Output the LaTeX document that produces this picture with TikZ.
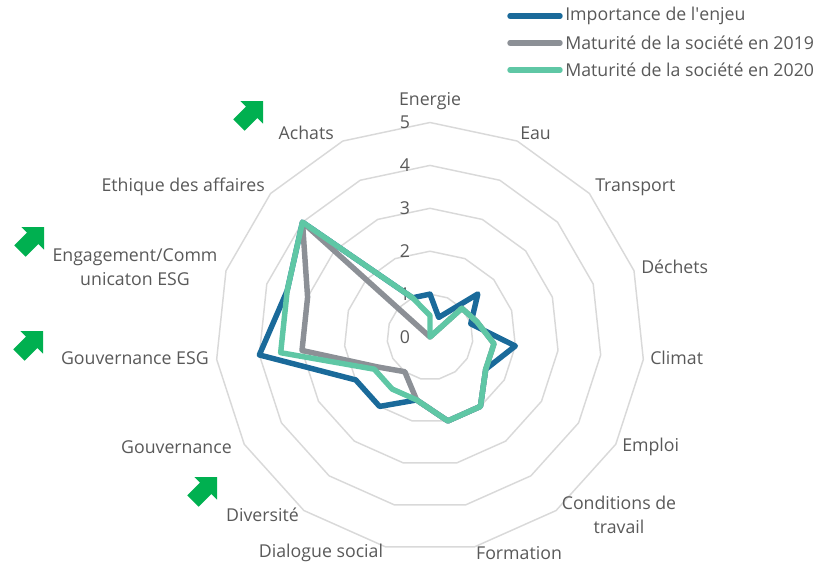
\documentclass[tikz,border=0pt]{standalone}
\usepackage{fontspec}
\setmainfont{Open Sans}
\definecolor{impblue}{HTML}{1A6A9A}
\definecolor{matgray}{HTML}{8C9096}
\definecolor{matgreen}{HTML}{5FC7A5}
\definecolor{gridgray}{HTML}{D9D9D9}
\definecolor{labelgray}{HTML}{595959}
\definecolor{arrowgreen}{HTML}{00B050}
\tikzset{
    lbl/.style={text=labelgray, inner sep=0pt, font=\fontsize{13.3}{17.6}\selectfont},
    ring/.style={draw=gridgray, line width=1.1pt},
    serie/.style={line width=4.1pt, line join=round},
}
\newcommand\flecheverte[1]{%
    \fill[arrowgreen, shift={#1}, rotate=45]
        (0,0) -- (-16,16) -- (-16,8) -- (-34,8) -- (-34,-8) -- (-16,-8) -- (-16,-16) -- cycle;}

\begin{document}
\begin{tikzpicture}[x=0.75pt, y=-0.75pt]
    \useasboundingbox (0,0) rectangle (818,562);

    \begin{scope}[shift={(430,337)}]
        % grille
        \foreach \r in {1,...,5}
            \draw[ring] ({-90}:{\r*42.9}) \foreach \k in {1,...,14} { -- ({\k*24-90}:{\r*42.9}) } -- cycle;
        \foreach \r in {0,...,5}
            \node[lbl] (val\r) at (-25,{-\r*42.9}) {\r};

        % series
        \draw[serie, impblue] ({-90}:42.9)
            \foreach \v [count=\k] in {0.5,1.5,1,2,1.5,2,2,1.5,2,2,4,3.5,4,1} { -- ({\k*24-90}:{\v*42.9}) } -- cycle;
        \draw[serie, matgray] ({-90}:0)
            \foreach \v [count=\k] in {0,1,1.15,1.5,1.5,2,2,1.5,1,1.4,3,3,4,0} { -- ({\k*24-90}:{\v*42.9}) } -- cycle;
        \draw[serie, matgreen] ({-90}:{0.5*42.9})
            \foreach \v [count=\k] in {0,1,1.15,1.5,1.5,2,2,1.5,1.5,1.5,3.5,3.5,4,1} { -- ({\k*24-90}:{\v*42.9}) } -- cycle;
    \end{scope}

    % axes
    \node[lbl] (energie) at (430,101) {Energie};
    \node[lbl, anchor=west] (eau) at (520,133) {Eau};
    \node[lbl, anchor=west] (transport) at (595,187) {Transport};
    \node[lbl, anchor=west] (dechets) at (641,267) {Déchets};
    \node[lbl, anchor=west] (climat) at (650,358) {Climat};
    \node[lbl, anchor=west] (emploi) at (622,447) {Emploi};
    \node[lbl, align=center] (conditions) at (619,515) {Conditions de\\travail};
    \node[lbl] (formation) at (519,553) {Formation};
    \node[lbl] (dialogue) at (321,553) {Dialogue social};
    \node[lbl, anchor=east] (diversite) at (299,515) {Diversité};
    \node[lbl, anchor=east] (gouv) at (232,447) {Gouvernance};
    \node[lbl, anchor=east] (gouvesg) at (209,358) {Gouvernance ESG};
    \node[lbl, align=center] (engagement) at (135,267) {Engagement/Comm\\unicaton ESG};
    \node[lbl, anchor=east] (ethique) at (265,187) {Ethique des affaires};
    \node[lbl, anchor=east] (achats) at (334,133) {Achats};

    % legende
    \draw[serie, impblue, line cap=round] (510,16) -- (560,16);
    \draw[serie, matgray, line cap=round] (510,43) -- (560,43);
    \draw[serie, matgreen, line cap=round] (510,70) -- (560,70);
    \node[lbl, anchor=west] (legimp) at (565,16) {Importance de l\textquotesingle enjeu};
    \node[lbl, anchor=west] (leg2019) at (565,43) {Maturité de la société en 2019};
    \node[lbl, anchor=west] (leg2020) at (565,70) {Maturité de la société en 2020};

    % fleches
    \flecheverte{(263,101)}
    \flecheverte{(44,227)}
    \flecheverte{(43,331)}
    \flecheverte{(217,477)}
\end{tikzpicture}
\end{document}
